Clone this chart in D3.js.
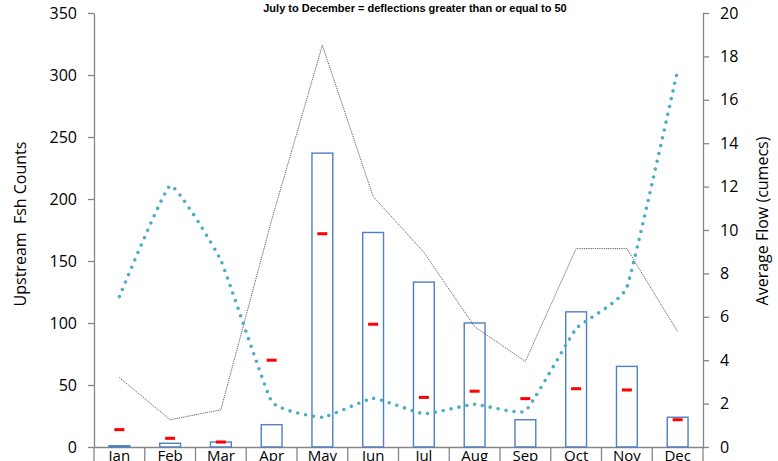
<!DOCTYPE html>
<html>
<head>
<meta charset="utf-8">
<script src="https://cdn.jsdelivr.net/npm/d3@7"></script>
<style>
body { margin: 0; background: #fff; }
text { font-family: "Open Sans", "Noto Sans", sans-serif; }
</style>
</head>
<body>
<svg id="chart" width="778" height="461"></svg>
<script>
var months = ['Jan', 'Feb', 'Mar', 'Apr', 'May', 'Jun', 'Jul', 'Aug', 'Sep', 'Oct', 'Nov', 'Dec'];
var fish_counts = [1, 3, 4, 18, 237, 173, 133, 100, 22, 109, 65, 24];
var red_marks = [14, 7, 4, 70, 172, 99, 40, 45, 39, 47, 46, 22];
var black_line = [56, 22, 30, 183, 324, 202, 157, 97, 69, 160, 160, 93];
var avg_flow = [6.93, 12.04, 8.6, 2.1, 1.37, 2.24, 1.53, 1.97, 1.66, 5.45, 7.36, 17.37];
var left_ticks = [0, 50, 100, 150, 200, 250, 300, 350];
var right_ticks = [0, 2, 4, 6, 8, 10, 12, 14, 16, 18, 20];

var margin = { left: 94, right: 75, top: 13, bottom: 14 };
var width = 778, height = 461;
var svg = d3.select('#chart');

var x = d3.scaleBand().domain(months).range([margin.left, width - margin.right]).padding(0);
var y = d3.scaleLinear().domain([0, 350]).range([height - margin.bottom, margin.top]);
var y2 = d3.scaleLinear().domain([0, 20]).range([height - margin.bottom, margin.top]);
var bw = x.bandwidth() * 0.41;
var cx = function(m) { return x(m) + x.bandwidth() / 2; };

// left axis
var gl = svg.append('g')
	.attr('transform', 'translate(' + margin.left + ',0)')
	.call(d3.axisLeft(y).tickValues(left_ticks).tickSize(6).tickPadding(11).tickSizeOuter(0));
gl.selectAll('.tick text').attr('font-size', 16).attr('fill', '#000');

// right axis
var gr = svg.append('g')
	.attr('transform', 'translate(' + (width - margin.right) + ',0)')
	.call(d3.axisRight(y2).tickValues(right_ticks).tickSize(6).tickPadding(11).tickSizeOuter(0));
gr.selectAll('.tick text').attr('font-size', 16).attr('fill', '#000');

svg.selectAll('.domain, .tick line').attr('stroke', '#868686').attr('stroke-width', 1.3);

// bottom axis
var gb = svg.append('g')
	.attr('transform', 'translate(0,' + (height - margin.bottom) + ')')
	.call(d3.axisBottom(x).tickSize(0).tickPadding(3).tickSizeOuter(0));
gb.select('.domain').attr('stroke', '#868686').attr('stroke-width', 1.5);
gb.selectAll('.tick text').attr('font-size', 15).attr('fill', '#000');

svg.append('g').selectAll('line')
	.data(months.concat(['end']))
	.enter()
	.append('line')
		.attr('x1', function(d, i) { return margin.left + i * x.step(); })
		.attr('x2', function(d, i) { return margin.left + i * x.step(); })
		.attr('y1', height - margin.bottom)
		.attr('y2', height)
		.attr('stroke', '#868686')
		.attr('stroke-width', 1.3);

// bars
svg.append('g').selectAll('rect')
	.data(fish_counts)
	.enter()
	.append('rect')
		.attr('x', function(d, i) { return cx(months[i]) - bw / 2; })
		.attr('y', function(d) { return y(d); })
		.attr('width', bw)
		.attr('height', function(d) { return y(0) - y(d); })
		.attr('fill', 'none')
		.attr('stroke', '#4f7fc4')
		.attr('stroke-width', 1.4);

// black thin dotted line
var line_left = d3.line()
	.x(function(d, i) { return cx(months[i]); })
	.y(function(d) { return y(d); });
svg.append('path')
	.datum(black_line)
	.attr('d', line_left)
	.attr('fill', 'none')
	.attr('stroke', '#333')
	.attr('stroke-width', 0.8)
	.attr('stroke-dasharray', '1.2,1');

// flow smoothed dotted line
var line_flow = d3.line()
	.x(function(d, i) { return cx(months[i]); })
	.y(function(d) { return y2(d); })
	.curve(d3.curveCardinal.tension(0.65));
svg.append('path')
	.datum(avg_flow)
	.attr('d', line_flow)
	.attr('fill', 'none')
	.attr('stroke', '#4bacc6')
	.attr('stroke-width', 3.6)
	.attr('stroke-linecap', 'round')
	.attr('stroke-dasharray', '0,8');

// red markers
svg.append('g').selectAll('rect')
	.data(red_marks)
	.enter()
	.append('rect')
		.attr('x', function(d, i) { return cx(months[i]) - 5; })
		.attr('y', function(d) { return y(d) - 1.5; })
		.attr('width', 10)
		.attr('height', 3)
		.attr('fill', '#ff0000');

// titles
svg.append('text')
	.attr('x', 415)
	.attr('y', 12)
	.attr('text-anchor', 'middle')
	.attr('font-size', 11)
	.attr('font-weight', 'bold')
	.style('font-family', '"Liberation Sans", Arial, sans-serif')
	.text('July to December = deflections greater than or equal to 50');

svg.append('text')
	.attr('transform', 'translate(26,224) rotate(-90)')
	.attr('text-anchor', 'middle')
	.attr('font-size', 16)
	.attr('fill', '#000')
	.attr('xml:space', 'preserve')
	.style('white-space', 'pre')
	.text('Upstream  Fsh Counts');

svg.append('text')
	.attr('transform', 'translate(768,221) rotate(-90)')
	.attr('text-anchor', 'middle')
	.attr('font-size', 16)
	.attr('fill', '#000')
	.text('Average Flow (cumecs)');
</script>
</body>
</html>
